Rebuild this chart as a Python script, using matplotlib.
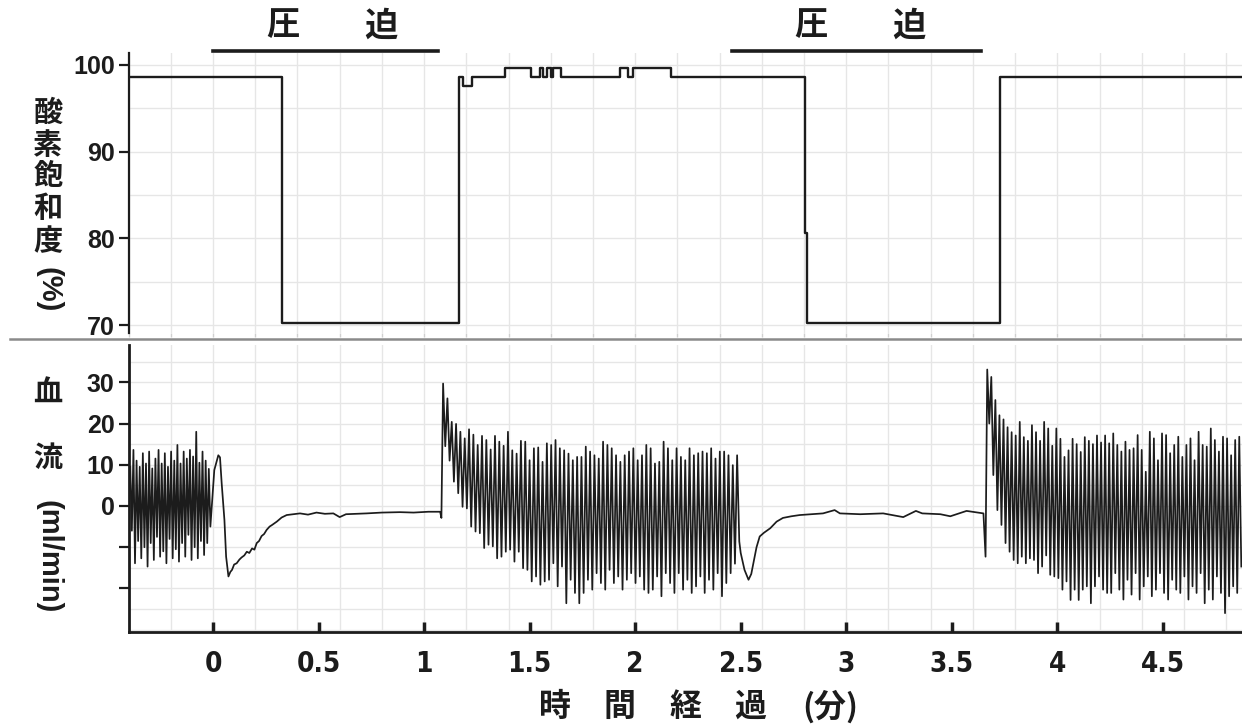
import numpy as np
import matplotlib
matplotlib.use("Agg")
import matplotlib.pyplot as plt
from matplotlib.lines import Line2D
from matplotlib.transforms import blended_transform_factory
from matplotlib import font_manager

# ---------------- data ----------------
# oxygen saturation (%) : step trace, value holds from each time until the next
spo2_t = [-0.40, 0.328, 1.167, 1.183, 1.226, 1.384, 1.506, 1.547, 1.562, 1.581,
          1.600, 1.613, 1.648, 1.926, 1.968, 1.992, 2.169, 2.806, 2.812, 3.730, 4.875]
spo2_v = [98.6, 70.2, 98.6, 97.6, 98.6, 99.6, 98.6, 99.6, 98.6, 99.6,
          98.6, 99.6, 98.6, 99.6, 98.6, 99.6, 98.6, 80.6, 70.2, 98.6, 98.6]

# blood flow (ml/min): pulsatile segments, one peak and one trough per beat
flow1_span = [-0.392, -0.020]
flow1_peaks = [9.5, 13.6, 11.0, 9.5, 12.8, 10.3, 13.2, 9.1, 11.5, 13.6,
               10.3, 12.8, 9.5, 13.2, 11.0, 14.8, 10.3, 13.2, 11.5, 13.6,
               12.0, 18.0, 10.5, 13.2, 11.0, 9.0]
flow1_troughs = [-6.0, -13.9, -8.5, -12.7, -10.0, -14.7, -9.0, -13.1, -7.5, -12.3,
                 -11.0, -13.9, -8.0, -12.7, -10.5, -13.5, -9.0, -12.3, -7.0, -13.1,
                 -10.0, -12.7, -8.5, -11.9, -9.0, -5.0]

flow2_span = [1.090, 2.483]
flow2_peaks = [29.7, 26.1, 20.4, 19.9, 18.0, 16.4, 18.6, 17.3, 14.8, 17.0,
               16.0, 13.7, 17.0, 15.6, 14.6, 18.0, 13.5, 12.7, 15.8, 15.6,
               11.1, 14.0, 14.2, 10.7, 15.2, 14.8, 16.0, 14.0, 13.5, 12.7,
               11.1, 11.9,
               11.9, 14.4, 13.2, 12.3, 11.5, 15.6, 14.8, 14.0, 12.3, 10.7,
               12.3, 13.2, 14.0, 11.1, 12.3, 14.8, 14.0, 10.3, 10.7, 15.6,
               14.0, 11.1, 14.0, 11.9, 11.1, 14.0, 12.3, 12.8, 13.2, 12.8,
               14.0, 11.5, 13.2, 13.2, 12.3, 9.9, 12.3]
flow2_troughs = [14.5, 11.0, 5.9, 3.1, -0.2, -0.6, -5.0, -6.2, -6.6, -10.2,
                 -9.4, -9.8, -12.7, -12.3, -11.1, -10.6, -13.5, -11.1, -15.1, -15.5,
                 -18.3, -17.1, -19.1, -18.3, -17.9, -13.9, -19.5, -14.7, -23.6, -17.9,
                 -21.1, -23.6,
                 -21.1, -17.9, -20.3, -16.3, -18.7, -20.3, -15.5, -18.7, -17.1, -20.3,
                 -17.9, -16.3, -18.7, -17.1, -20.3, -21.1, -20.3, -17.1, -21.9, -16.3,
                 -18.7, -21.1, -16.3, -20.3, -17.9, -21.1, -19.5, -17.1, -21.1, -17.9,
                 -20.3, -16.3, -21.9, -18.7, -16.3, -14.0, -8.6]

flow3_span = [3.668, 4.862]
flow3_peaks = [33.1, 31.3, 25.7, 22.0, 21.0, 19.1, 17.9, 17.1, 20.4, 16.7,
               15.8, 19.6, 17.9, 15.8, 20.4, 18.8, 14.6, 18.8, 16.3, 11.9,
               13.5, 16.3, 15.0, 13.1, 16.7, 15.8, 15.0, 17.1, 15.4, 17.1,
               15.2, 17.6, 14.8, 13.2, 15.6, 13.6, 14.0, 17.2, 13.6, 8.3,
               18.0, 16.4, 11.1, 17.6, 17.2, 12.8, 14.8, 16.8, 11.9, 14.8,
               16.4, 11.1, 18.0, 14.8, 14.4, 18.8, 16.0, 13.2, 16.8, 16.4,
               12.3, 16.0, 16.8]
flow3_troughs = [20.0, 7.5, -1.0, -4.6, -9.0, -11.1, -13.1, -13.9, -12.3, -13.9,
                 -12.7, -13.1, -16.3, -14.7, -12.0, -16.7, -17.1, -17.5, -20.3, -18.3,
                 -22.8, -20.3, -22.8, -20.3, -19.5, -23.6, -19.5, -17.1, -20.3, -21.1,
                 -21.1, -16.3, -20.3, -22.7, -17.9, -21.5, -16.3, -22.7, -19.5, -17.1,
                 -21.9, -20.3, -16.3, -21.1, -22.7, -17.9, -20.3, -21.1, -17.1, -22.7,
                 -19.5, -21.1, -16.3, -23.6, -20.3, -22.7, -17.1, -21.1, -26.0, -21.9,
                 -19.5, -21.1, -14.7]

# non-pulsatile flow during compression
rec1_t = [0.006, 0.025, 0.033, 0.041, 0.054, 0.062, 0.073, 0.082, 0.090, 0.100,
          0.112, 0.125, 0.135, 0.148, 0.160, 0.172, 0.185, 0.196, 0.207, 0.218,
          0.230, 0.242, 0.254, 0.268, 0.280, 0.302, 0.325, 0.349, 0.380, 0.412,
          0.450, 0.490, 0.530, 0.570, 0.600, 0.630, 0.680, 0.728, 0.800, 0.886,
          0.950, 1.020, 1.076, 1.082]
rec1_v = [8.7, 12.3, 11.8, 5.5, -3.4, -12.3, -17.1, -16.0, -15.5, -14.2,
          -13.9, -13.0, -12.5, -12.0, -11.1, -11.4, -10.3, -10.6, -9.0, -8.5,
          -7.3, -6.8, -5.8, -5.0, -4.6, -3.8, -2.8, -2.2, -2.0, -1.8,
          -2.1, -1.6, -1.9, -1.8, -2.7, -2.0, -1.9, -1.8, -1.6, -1.5,
          -1.6, -1.4, -1.4, -2.9]
rec2_t = [2.500, 2.518, 2.537, 2.550, 2.560, 2.575, 2.590, 2.610, 2.640, 2.670,
          2.700, 2.740, 2.780, 2.890, 2.945, 2.970, 3.066, 3.175, 3.270, 3.330,
          3.360, 3.446, 3.493, 3.570, 3.650, 3.660]
rec2_v = [-11.4, -15.5, -17.9, -16.5, -13.9, -10.0, -7.4, -6.5, -5.4, -3.8,
          -2.9, -2.5, -2.2, -1.8, -1.0, -1.8, -2.0, -1.8, -2.7, -1.2,
          -1.8, -2.0, -2.5, -1.2, -1.8, -12.3]

# compression periods (min)
press_start = [0.0, 2.46]
press_end = [1.066, 3.64]
press_chars = ["圧", "迫"]
press_char_x = [[0.332, 0.796], [2.833, 3.297]]

x_ticks = [0, 0.5, 1, 1.5, 2, 2.5, 3, 3.5, 4, 4.5]
x_ticklabels = ["0", "0.5", "1", "1.5", "2", "2.5", "3", "3.5", "4", "4.5"]
spo2_ticks = [70, 80, 90, 100]
flow_ticks = [-20, -10, 0, 10, 20, 30]
flow_ticklabels = ["", "", "0", "10", "20", "30"]

ylabel1_chars = ["酸", "素", "飽", "和", "度"]
ylabel1_unit = "(%)"
ylabel2_chars = ["血", "流"]
ylabel2_unit = "(ml/min)"
xlabel_chars = ["時", "間", "経", "過", "(分)"]

# ---------------- drawing ----------------
W, H = 1242, 727
fig = plt.figure(figsize=(W / 100, H / 100), dpi=100)
fig.patch.set_facecolor("white")

CJK = ["Noto Sans CJK JP", "DejaVu Sans"]
NUM = ["Liberation Sans", "DejaVu Sans"]
INK = "#1c1c1c"
GRID = "#e6e6e6"

# look for an installed condensed / narrow bold face for the time tick labels
narrow_fp = None
for f in font_manager.fontManager.ttflist:
    name = f.name.lower()
    is_narrow = ("narrow" in name or "condensed" in name or
                 f.stretch in ("condensed", "semi-condensed", "extra-condensed"))
    w = f.weight if isinstance(f.weight, int) else (700 if "bold" in str(f.weight) else 400)
    if is_narrow and w == 700 and f.style == "normal" and "mono" not in name:
        narrow_fp = font_manager.FontProperties(fname=f.fname, size=20)
        break

xlim = (-0.40, 4.875)
left = 128.6 / W
width = 1 - left
ax1 = fig.add_axes([left, 1 - 333 / H, width, (333 - 53) / H])
ax2 = fig.add_axes([left, 1 - 631.7 / H, width, (631.7 - 345) / H])

grid_x = np.arange(-0.4, 4.9, 0.2)

# --- top panel: oxygen saturation
ax1.set_xlim(*xlim)
ax1.set_ylim(69.08, 101.38)
for gx in grid_x:
    ax1.axvline(gx, color=GRID, lw=1, zorder=0)
for gy in np.arange(70, 101, 5):
    ax1.axhline(gy, color=GRID, lw=1, zorder=0)
ax1.step(spo2_t, spo2_v, where="post", color=INK, lw=1.7, zorder=3)
for s in ["top", "right", "bottom"]:
    ax1.spines[s].set_visible(False)
ax1.spines["left"].set_linewidth(1.6)
ax1.spines["left"].set_color(INK)
ax1.set_yticks(spo2_ticks)
ax1.set_yticklabels([str(v) for v in spo2_ticks], fontfamily=NUM,
                    fontweight="bold", fontsize=18, color=INK)
ax1.tick_params(axis="y", direction="out", length=7, width=1.6, color=INK, pad=3)
ax1.set_xticks(grid_x)
ax1.tick_params(axis="x", direction="out", length=3, width=1, color="#d0d0d0",
                labelbottom=False)

# --- bottom panel: blood flow
def beats(span, peaks, troughs):
    n = len(peaks)
    tp = np.linspace(span[0], span[1], n)
    dt = (span[1] - span[0]) / (n - 1)
    xs = np.empty(2 * n)
    ys = np.empty(2 * n)
    xs[0::2] = tp
    xs[1::2] = tp + 0.5 * dt
    ys[0::2] = peaks
    ys[1::2] = troughs
    return xs, ys

x1, y1 = beats(flow1_span, flow1_peaks, flow1_troughs)
x2, y2 = beats(flow2_span, flow2_peaks, flow2_troughs)
x3, y3 = beats(flow3_span, flow3_peaks, flow3_troughs)
flow_x = np.concatenate([x1, rec1_t, x2, rec2_t, x3])
flow_y = np.concatenate([y1, rec1_v, y2, rec2_v, y3])

ax2.set_xlim(*xlim)
ax2.set_ylim(-30.5, 39.05)
for gx in grid_x:
    ax2.axvline(gx, color=GRID, lw=1, zorder=0)
for gy in np.arange(-30, 36, 5):
    ax2.axhline(gy, color=GRID, lw=1, zorder=0)
ax2.plot(flow_x, flow_y, color=INK, lw=1.25, zorder=3)
for s in ["top", "right"]:
    ax2.spines[s].set_visible(False)
for s in ["left", "bottom"]:
    ax2.spines[s].set_linewidth(2.0)
    ax2.spines[s].set_color(INK)
ax2.set_yticks(flow_ticks)
ax2.set_yticklabels(flow_ticklabels, fontfamily=NUM, fontweight="bold",
                    fontsize=18, color=INK)
ax2.tick_params(axis="y", direction="out", length=7, width=1.6, color=INK, pad=3)
ax2.set_xticks(x_ticks)
if narrow_fp is not None:
    ax2.set_xticklabels(x_ticklabels, fontproperties=narrow_fp, color=INK)
else:
    ax2.set_xticklabels(x_ticklabels, fontfamily=NUM, fontweight="bold",
                        fontsize=18, color=INK)
ax2.tick_params(axis="x", direction="in", length=7, width=2.5, color=INK, pad=13)

# separator line between panels
fig.add_artist(Line2D([10 / W, 1.0], [1 - 339 / H] * 2, color="#8a8a8a", lw=1.8))

# compression bars and labels
trans = blended_transform_factory(ax1.transData, fig.transFigure)
for i in range(len(press_start)):
    fig.add_artist(Line2D([press_start[i], press_end[i]], [1 - 51 / H] * 2,
                          transform=trans, color=INK, lw=2.6))
    for ch, cx in zip(press_chars, press_char_x[i]):
        fig.text(cx, 1 - 26 / H, ch, transform=trans, ha="center", va="center",
                 fontfamily=CJK, fontweight="bold", fontsize=24, color=INK)

# vertical (Japanese style) y labels
lx = 48 / W
for ch, cy in zip(ylabel1_chars, [113, 145, 176, 208, 241]):
    fig.text(lx, 1 - cy / H, ch, ha="center", va="center", fontfamily=CJK,
             fontweight="bold", fontsize=21, color=INK)
fig.text(lx, 1 - 290 / H, ylabel1_unit, ha="center", va="center", rotation=-90,
         fontfamily=NUM, fontweight="bold", fontsize=21, color=INK)
for ch, cy in zip(ylabel2_chars, [393, 458]):
    fig.text(lx, 1 - cy / H, ch, ha="center", va="center", fontfamily=CJK,
             fontweight="bold", fontsize=21, color=INK)
fig.text(lx, 1 - 557 / H, ylabel2_unit, ha="center", va="center", rotation=-90,
         fontfamily=NUM, fontweight="bold", fontsize=21, color=INK)

# x label
for ch, cx in zip(xlabel_chars, [555, 620, 685, 750, 830]):
    fig.text(cx / W, 1 - 707 / H, ch, ha="center", va="center", fontfamily=CJK,
             fontweight="bold", fontsize=23, color=INK)

fig.savefig("out.png", dpi=100, facecolor="white")
